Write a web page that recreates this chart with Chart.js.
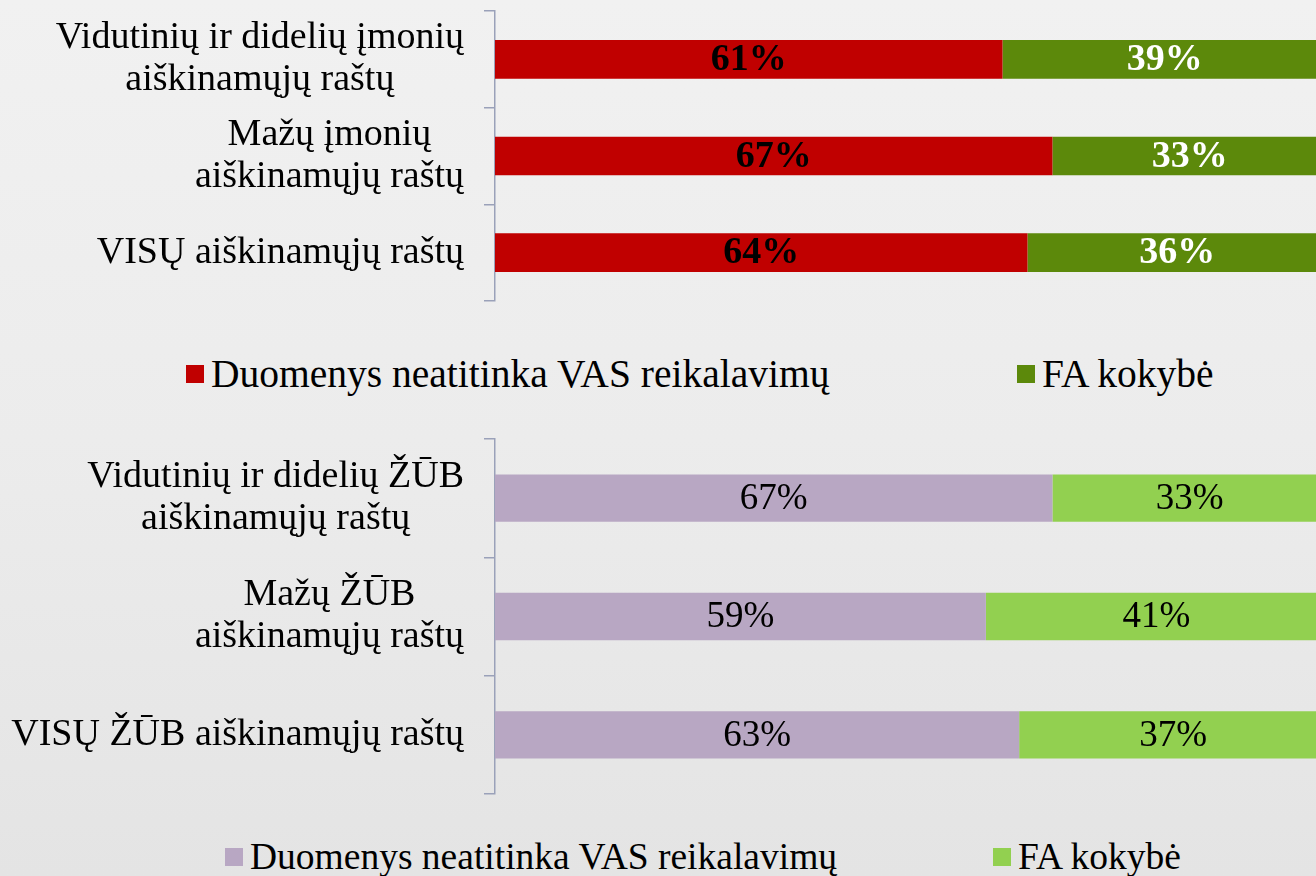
<!DOCTYPE html>
<html lang="lt">
<head>
<meta charset="utf-8">
<title>Aiškinamieji raštai</title>
<script src="https://cdn.jsdelivr.net/npm/chart.js@4"></script>
<style>
  html, body { margin: 0; padding: 0; }
  body {
    width: 1316px; height: 876px; overflow: hidden; position: relative;
    background: linear-gradient(180deg, #f1f1f1 0%, #ececec 50%, #e4e4e4 100%);
  }
  canvas { position: absolute; left: 0; }
  #grafikas1 { top: 0; }
  #grafikas2 { top: 428px; }
  .legenda { position: absolute; left: 0; width: 1316px; height: 50px; }
  .legenda .kvadratas { position: absolute; width: 18px; height: 18px; }
  .legenda .tekstas {
    position: absolute; line-height: 40px; color: #000; white-space: nowrap;
    font-family: "Liberation Serif", "Times New Roman", serif;
  }
</style>
</head>
<body>
<canvas id="grafikas1" width="1327" height="311"></canvas>
<canvas id="grafikas2" width="1327" height="376"></canvas>
<div class="legenda" id="legenda1" style="top:354px"></div>
<div class="legenda" id="legenda2" style="top:837px"></div>
<script>
// DUOMENYS
const serijos = ["Duomenys neatitinka VAS reikalavimų", "FA kokybė"];

const kategorijos1 = [
    ["Vidutinių ir didelių įmonių", "aiškinamųjų raštų"],
    ["Mažų įmonių", "aiškinamųjų raštų"],
    ["VISŲ aiškinamųjų raštų"]
];
const neatitinka1 = [61, 67, 64];
const kokybe1 = [39, 33, 36];

const kategorijos2 = [
    ["Vidutinių ir didelių ŽŪB", "aiškinamųjų raštų"],
    ["Mažų ŽŪB", "aiškinamųjų raštų"],
    ["VISŲ ŽŪB aiškinamųjų raštų"]
];
const neatitinka2 = [67, 59, 63];
const kokybe2 = [33, 41, 37];
// ----------------

const SRIFTAS = '"Liberation Serif", "Times New Roman", serif';
const ASIES_SPALVA = '#9aa1b9';

// procentai ant stulpelių
const reiksmiuPlugin = {
    id: 'reiksmes',
    afterDatasetsDraw(chart) {
        const ctx = chart.ctx;
        chart.data.datasets.forEach((ds, i) => {
            const meta = chart.getDatasetMeta(i);
            ctx.save();
            ctx.font = ds.zymeSriftas;
            ctx.fillStyle = ds.zymeSpalva;
            ctx.textAlign = 'center';
            ctx.textBaseline = 'middle';
            meta.data.forEach((bar, j) => {
                const x = (bar.x + bar.base) / 2;
                ctx.fillText(ds.data[j] + '%', x, bar.y + 1);
            });
            ctx.restore();
        });
    }
};

// kategorijų pavadinimai: eilutės centruotos bloke, blokas lygiuotas dešinėn
const pavadinimuPlugin = {
    id: 'pavadinimai',
    afterDraw(chart) {
        const ctx = chart.ctx;
        const y = chart.scales.y;
        const desine = 464;
        const eilutesAukstis = 42;
        ctx.save();
        ctx.font = '38px ' + SRIFTAS;
        ctx.fillStyle = '#000';
        ctx.textAlign = 'center';
        ctx.textBaseline = 'middle';
        chart.data.labels.forEach((lbl, i) => {
            const eilutes = Array.isArray(lbl) ? lbl : [lbl];
            const plotis = Math.max(...eilutes.map(e => ctx.measureText(e).width));
            const cx = desine - plotis / 2;
            const cy = y.getPixelForTick(i);
            eilutes.forEach((e, k) => {
                ctx.fillText(e, cx, cy + (k - (eilutes.length - 1) / 2) * eilutesAukstis);
            });
        });
        ctx.restore();
    }
};

const sukurtiGrafika = (id, kategorijos, reiksmes1, reiksmes2, spalvos, zymes) => {
    const ctx = document.getElementById(id);
    return new Chart(ctx, {
        type: 'bar',
        data: {
            labels: kategorijos,
            datasets: [{
                label: serijos[0],
                data: reiksmes1,
                backgroundColor: spalvos[0],
                categoryPercentage: 0.4,
                barPercentage: 1,
                zymeSriftas: zymes[0],
                zymeSpalva: zymes[1]
            }, {
                label: serijos[1],
                data: reiksmes2,
                backgroundColor: spalvos[1],
                categoryPercentage: 0.4,
                barPercentage: 1,
                zymeSriftas: zymes[0],
                zymeSpalva: zymes[2]
            }]
        },
        options: {
            indexAxis: 'y',
            responsive: false,
            animation: false,
            devicePixelRatio: 1,
            layout: { padding: { top: 11, bottom: 10, left: 0, right: 0 } },
            plugins: {
                legend: { display: false },
                tooltip: { enabled: false }
            },
            scales: {
                x: { stacked: true, min: 0, max: 100, display: false },
                y: {
                    stacked: true,
                    afterFit: (scale) => { scale.width = 495; },
                    ticks: { display: false },
                    grid: {
                        offset: true,
                        drawOnChartArea: false,
                        drawTicks: true,
                        tickLength: 11,
                        color: ASIES_SPALVA,
                        lineWidth: 1.5
                    },
                    border: { display: true, color: ASIES_SPALVA, width: 1.5 }
                }
            }
        },
        plugins: [reiksmiuPlugin, pavadinimuPlugin]
    });
};

const spalvos1 = ['#c00000', '#5c890b'];
const spalvos2 = ['#b8a7c3', '#92d050'];

sukurtiGrafika('grafikas1', kategorijos1, neatitinka1, kokybe1, spalvos1,
    ['bold 38px ' + SRIFTAS, '#000000', '#ffffff']);
sukurtiGrafika('grafikas2', kategorijos2, neatitinka2, kokybe2, spalvos2,
    ['37px ' + SRIFTAS, '#000000', '#000000']);

// LEGENDOS
const pieštiLegenda = (id, spalvos, pozicijos, kvadratoVirsus, dydis) => {
    const el = document.getElementById(id);
    serijos.forEach((s, i) => {
        const kv = document.createElement('div');
        kv.className = 'kvadratas';
        kv.style.background = spalvos[i];
        kv.style.left = pozicijos[i] + 'px';
        kv.style.top = kvadratoVirsus + 'px';
        el.appendChild(kv);
        const t = document.createElement('div');
        t.className = 'tekstas';
        t.textContent = s;
        t.style.fontSize = dydis + 'px';
        t.style.left = (pozicijos[i] + 25) + 'px';
        t.style.top = '0px';
        el.appendChild(t);
    });
};
pieštiLegenda('legenda1', spalvos1, [186, 1017], 11, 39.5);
pieštiLegenda('legenda2', spalvos2, [225, 993], 11, 37.5);
</script>
</body>
</html>
